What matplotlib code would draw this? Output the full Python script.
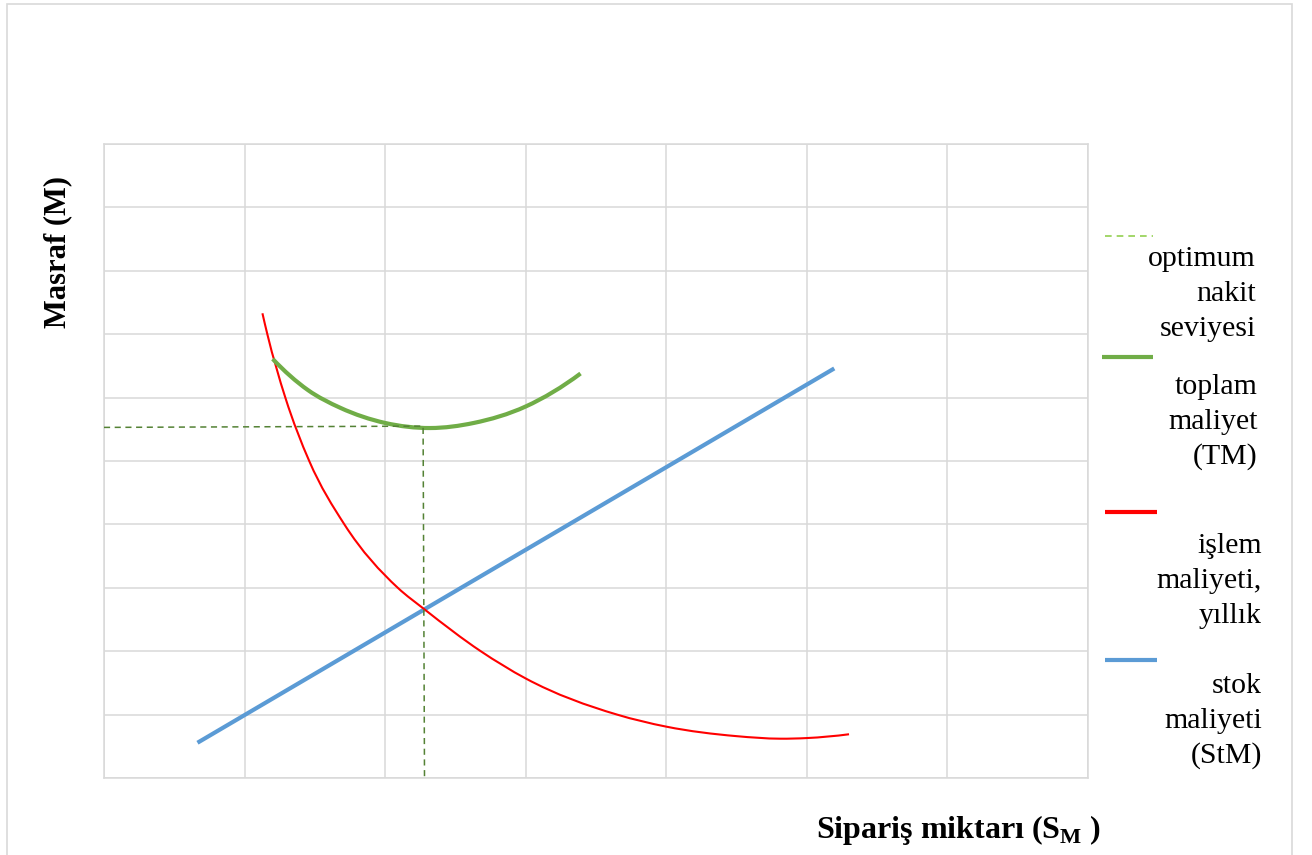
import matplotlib
matplotlib.use("Agg")
import matplotlib.pyplot as plt
from matplotlib.path import Path
from matplotlib.patches import PathPatch, Rectangle
from matplotlib.lines import Line2D

plt.rcParams['font.family'] = ['Liberation Serif', 'DejaVu Serif']
plt.rcParams['mathtext.fontset'] = 'custom'
plt.rcParams['mathtext.rm'] = 'Liberation Serif'
plt.rcParams['mathtext.bf'] = 'Liberation Serif:bold'

# --- data (x: order quantity, y: cost; arbitrary units) ---
stock_x = [0.665, 5.195]
stock_y = [0.556, 6.46]

trans_x = [1.127, 1.162, 1.29, 1.46, 1.71, 2.09, 2.28, 2.68, 3.0, 3.65, 4.0, 4.5, 4.81, 5.0, 5.30]
trans_y = [7.33, 7.0, 6.0, 5.0, 4.0, 3.0, 2.66, 2.0, 1.57, 1.0, 0.81, 0.66, 0.62, 0.63, 0.69]

total_x = [1.20, 1.45, 1.68, 2.0, 2.32, 2.63, 3.0, 3.39]
total_y = [6.61, 6.12, 5.84, 5.60, 5.52, 5.60, 5.86, 6.38]

optimum_x = [0.0, 2.27, 2.28]
optimum_y = [5.53, 5.55, 0.0]

legend_labels = [
    ["optimum", "nakit", "seviyesi"],
    ["toplam", "maliyet", "(TM)"],
    ["işlem", "maliyeti,", "yıllık"],
    ["stok", "maliyeti", "(StM)"],
]
x_label = r"Sipariş miktarı (S$_{\mathbf{M}}$ )"
y_label = "Masraf (M)"

GREEN = "#70ad47"
DARK_GREEN = "#548235"
LIGHT_GREEN = "#92d050"
RED = "#ff0000"
BLUE = "#5b9bd5"
GRID = "#d9d9d9"

W, H = 1312, 855
fig = plt.figure(figsize=(W / 100, H / 100), dpi=100)

# chart border
fig.patches.append(Rectangle((7 / W, -0.02), (1292 - 7) / W, 1 - 4 / H + 0.02,
                             transform=fig.transFigure, fill=False,
                             edgecolor=GRID, linewidth=1.2))

ax = fig.add_axes([104 / W, 1 - 778 / H, (1088 - 104) / W, (778 - 144) / H])
ax.set_xlim(0, 7)
ax.set_ylim(0, 10)
ax.set_xticks(range(0, 8))
ax.set_yticks(range(0, 11))
ax.tick_params(length=0, labelbottom=False, labelleft=False)
ax.grid(True, color=GRID, linewidth=1.1)
ax.set_axisbelow(True)
for s in ax.spines.values():
    s.set_color(GRID)
    s.set_linewidth(1.1)


def smooth_path(xs, ys):
    """Piecewise cubic Hermite curve through the points, as Bezier segments."""
    n = len(xs)
    h = [xs[i + 1] - xs[i] for i in range(n - 1)]
    d = [(ys[i + 1] - ys[i]) / h[i] for i in range(n - 1)]
    m = [0.0] * n
    for i in range(1, n - 1):
        m[i] = (h[i] * d[i - 1] + h[i - 1] * d[i]) / (h[i - 1] + h[i])
    m[0] = ((2 * h[0] + h[1]) * d[0] - h[0] * d[1]) / (h[0] + h[1])
    m[-1] = ((2 * h[-1] + h[-2]) * d[-1] - h[-1] * d[-2]) / (h[-1] + h[-2])
    verts = [(xs[0], ys[0])]
    codes = [Path.MOVETO]
    for i in range(n - 1):
        verts += [(xs[i] + h[i] / 3, ys[i] + m[i] * h[i] / 3),
                  (xs[i + 1] - h[i] / 3, ys[i + 1] - m[i + 1] * h[i] / 3),
                  (xs[i + 1], ys[i + 1])]
        codes += [Path.CURVE4] * 3
    return Path(verts, codes)


ax.plot(stock_x, stock_y, color=BLUE, linewidth=3.0, solid_capstyle='butt', zorder=3)
ax.add_patch(PathPatch(smooth_path(trans_x, trans_y), fill=False, edgecolor=RED,
                       linewidth=1.5, zorder=3))
ax.add_patch(PathPatch(smooth_path(total_x, total_y), fill=False, edgecolor=GREEN,
                       linewidth=3.0, capstyle='butt', zorder=3))
ax.plot(optimum_x, optimum_y, color=DARK_GREEN, linewidth=1.1,
        linestyle=(0, (4, 3)), zorder=4)

# axis titles
fig.text(58 / W, 1 - 252 / H, y_label, rotation=90, ha='center', va='center',
         fontsize=22, fontweight='bold')
fig.text(1101 / W, 1 - 838 / H, x_label, ha='right', va='baseline',
         fontsize=23, fontweight='bold')

# legend (right side)
legend_styles = [
    dict(color=LIGHT_GREEN, linewidth=1.2, linestyle=(0, (4, 3))),
    dict(color=GREEN, linewidth=3.0),
    dict(color=RED, linewidth=3.0),
    dict(color=BLUE, linewidth=3.0),
]
legend_line_y = [236, 357, 512, 660]
legend_line_x = [(1105, 1153), (1102, 1153), (1105, 1157), (1105, 1157)]
legend_first_baseline = [266, 394, 553, 693]
legend_text_right = [1256, 1258, 1262, 1262]
LINE_STEP = 35
for lines, sty, ly, lx, b0, tr in zip(legend_labels, legend_styles, legend_line_y,
                                      legend_line_x, legend_first_baseline,
                                      legend_text_right):
    fig.add_artist(Line2D([lx[0] / W, lx[1] / W], [1 - ly / H, 1 - ly / H],
                          transform=fig.transFigure, solid_capstyle='butt', **sty))
    for k, txt in enumerate(lines):
        fig.text(tr / W, 1 - (b0 + k * LINE_STEP) / H, txt, ha='right',
                 va='baseline', fontsize=21.5)

fig.savefig("out.png", dpi=100)
